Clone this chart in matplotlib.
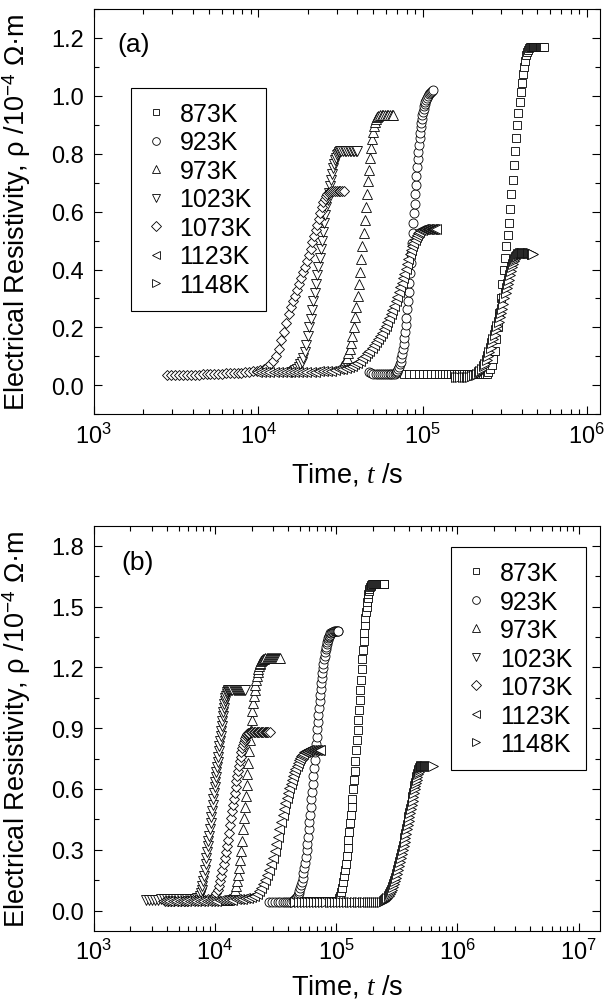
import numpy as np
import matplotlib
matplotlib.use('Agg')
import matplotlib.pyplot as plt
from matplotlib.ticker import MultipleLocator, FormatStrFormatter, LogLocator, NullFormatter

plt.rcParams['font.family'] = ['Liberation Sans', 'DejaVu Sans']
plt.rcParams['mathtext.fontset'] = 'custom'
plt.rcParams['mathtext.rm'] = 'Liberation Sans'
plt.rcParams['mathtext.it'] = 'Liberation Serif:italic'

labels = ['873K', '923K', '973K', '1023K', '1073K', '1123K', '1148K']

# ---------------- (a) : time in 10^3 s, resistivity in 10^-4 Ohm m ----------------
ta_873 = [77, 83, 89, 95, 101, 107, 113, 119, 125, 131,
          137, 143, 149, 155, 161, 167, 173, 179, 185, 191,
          197, 203, 209, 215, 221, 227, 233, 239, 245, 251,
          257, 263, 269, 275, 281, 287, 293, 299, 305, 311,
          317, 323, 329, 335, 341, 347, 353, 359, 365, 371,
          377, 383, 389, 395, 401, 407, 413, 419, 425, 431,
          437, 443, 449, 455, 461, 467, 473, 479, 485, 491,
          497, 503, 509, 515, 521, 527, 533, 539, 545]
ra_873 = [0.04, 0.04, 0.04, 0.04, 0.04, 0.04, 0.04, 0.04, 0.04, 0.04,
          0.04, 0.04, 0.04, 0.04, 0.04, 0.04, 0.04, 0.04, 0.04, 0.04,
          0.04, 0.04, 0.04, 0.04, 0.04, 0.04, 0.04, 0.04, 0.04, 0.045,
          0.055, 0.07, 0.09, 0.12, 0.16, 0.20, 0.25, 0.30, 0.35, 0.40,
          0.44, 0.48, 0.52, 0.56, 0.61, 0.66, 0.71, 0.76, 0.81, 0.855,
          0.90, 0.94, 0.98, 1.015, 1.045, 1.075, 1.10, 1.12, 1.14, 1.152,
          1.16, 1.165, 1.168, 1.17, 1.17, 1.17, 1.17, 1.17, 1.17, 1.17,
          1.17, 1.17, 1.17, 1.17, 1.17, 1.17, 1.17, 1.17, 1.17]

ta_923 = [47.0, 48.6, 50.2, 51.8, 53.4, 55.0, 56.6, 58.2, 59.8, 61.4,
          63.0, 64.6, 66.2, 67.8, 68.6, 69.4, 70.2, 71.0, 71.8, 72.6,
          73.4, 74.2, 75.0, 75.8, 76.6, 77.4, 78.2, 79.0, 79.8, 80.6,
          81.4, 82.2, 83.0, 83.8, 84.6, 85.4, 86.2, 87.0, 87.8, 88.6,
          89.4, 90.2, 91.0, 91.8, 92.6, 93.4, 94.2, 95.0, 95.8, 96.6,
          97.4, 98.2, 99.0, 99.8, 100.6, 101.4, 102.2, 103.0, 103.8, 104.6,
          106.2, 107.8, 109.4, 111.0, 112.6, 114.2, 115.0]
ra_923 = [0.045, 0.042, 0.04, 0.04, 0.04, 0.04, 0.04, 0.04, 0.04, 0.04,
          0.04, 0.04, 0.04, 0.04, 0.042, 0.045, 0.05, 0.056, 0.063, 0.072,
          0.082, 0.094, 0.108, 0.124, 0.142, 0.162, 0.184, 0.208, 0.234, 0.262,
          0.292, 0.323, 0.355, 0.388, 0.421, 0.455, 0.49, 0.525, 0.56, 0.594,
          0.628, 0.661, 0.693, 0.724, 0.753, 0.781, 0.807, 0.831, 0.853, 0.873,
          0.891, 0.907, 0.921, 0.934, 0.945, 0.955, 0.964, 0.972, 0.979, 0.985,
          0.994, 1.0, 1.006, 1.011, 1.015, 1.018, 1.02]

ta_973 = [32.5, 33.2, 33.9, 34.6, 35.3, 36.0, 36.7, 37.4, 38.1, 38.8,
          39.5, 40.2, 40.9, 41.6, 42.3, 43.0, 43.7, 44.4, 45.1, 45.8,
          46.5, 47.2, 47.9, 48.6, 49.3, 50.0, 50.7, 51.4, 52.1, 52.8,
          53.5, 54.9, 56.3, 57.7, 59.1, 60.5, 61.9, 63.3, 64.7, 66.1]
ra_973 = [0.065, 0.075, 0.085, 0.095, 0.11, 0.125, 0.145, 0.17, 0.2, 0.235,
          0.27, 0.31, 0.35, 0.39, 0.435, 0.48, 0.525, 0.57, 0.615, 0.66,
          0.705, 0.745, 0.785, 0.82, 0.85, 0.875, 0.895, 0.91, 0.92, 0.927,
          0.931, 0.934, 0.935, 0.935, 0.935, 0.935, 0.935, 0.935, 0.935, 0.935]

ta_1023 = [16.0, 16.4, 16.8, 17.2, 17.6, 18.0, 18.4, 18.8, 19.2, 19.6,
           20.0, 20.4, 20.8, 21.2, 21.6, 22.0, 22.4, 22.8, 23.2, 23.6,
           24.0, 24.4, 24.8, 25.2, 25.6, 26.0, 26.4, 26.8, 27.2, 27.6,
           28.0, 28.4, 28.8, 29.2, 29.6, 30.0, 30.4, 30.8, 31.2, 31.6,
           32.0, 32.8, 33.6, 34.4, 35.2, 36.0, 36.8, 37.6, 38.4, 39.2, 40.0]
ra_1023 = [0.045, 0.048, 0.052, 0.057, 0.064, 0.072, 0.082, 0.096, 0.115, 0.14,
           0.17, 0.2, 0.23, 0.26, 0.29, 0.32, 0.35, 0.38, 0.41, 0.44,
           0.47, 0.5, 0.53, 0.56, 0.59, 0.615, 0.64, 0.665, 0.69, 0.71,
           0.73, 0.75, 0.765, 0.777, 0.787, 0.795, 0.8, 0.804, 0.807, 0.809,
           0.81, 0.81, 0.81, 0.81, 0.81, 0.81, 0.81, 0.81, 0.81, 0.81, 0.81]

ta_1073 = [2.8, 2.95, 3.1, 3.3, 3.5, 3.7, 3.9, 4.1, 4.35, 4.6,
           4.85, 5.1, 5.4, 5.7, 6.0, 6.35, 6.7, 7.1, 7.5, 7.9,
           8.3, 8.8, 9.3, 9.8, 10.3, 10.8, 11.3, 11.8, 12.3, 12.8,
           13.3, 13.8, 14.3, 14.8, 15.3, 15.8, 16.3, 16.8, 17.3, 17.8,
           18.3, 18.8, 19.3, 19.8, 20.3, 20.8, 21.3, 21.8, 22.3, 22.8,
           23.3, 23.8, 24.3, 24.8, 25.3, 25.8, 26.3, 26.8, 27.3, 27.8,
           28.5, 29.2, 30.0, 30.8, 31.6, 32.4, 33.4]
ra_1073 = [0.035, 0.035, 0.035, 0.035, 0.035, 0.036, 0.036, 0.037, 0.037, 0.038,
           0.038, 0.039, 0.039, 0.04, 0.04, 0.041, 0.042, 0.042, 0.043, 0.044,
           0.045, 0.046, 0.048, 0.05, 0.053, 0.057, 0.063, 0.072, 0.085, 0.1,
           0.125, 0.155, 0.185, 0.215, 0.245, 0.27, 0.29, 0.31, 0.33, 0.35,
           0.37, 0.39, 0.41, 0.43, 0.45, 0.47, 0.495, 0.515, 0.535, 0.555,
           0.575, 0.595, 0.615, 0.635, 0.645, 0.655, 0.66, 0.665, 0.668, 0.67,
           0.671, 0.672, 0.672, 0.672, 0.672, 0.672, 0.672]

ta_1123 = [9.8, 10.4, 11.0, 11.7, 12.4, 13.1, 13.9, 14.7, 15.6, 16.5,
           17.5, 18.5, 19.6, 20.8, 22.0, 23.3, 24.7, 26.2, 27.7, 29.3,
           31.0, 32.5, 34.0, 35.5, 37.0, 38.5, 40.0, 41.5, 43.0, 44.5,
           46.0, 47.5, 49.0, 50.5, 52.0, 53.5, 55.0, 56.5, 58.0, 59.5,
           61.0, 62.5, 64.0, 65.5, 67.0, 68.5, 70.0, 71.5, 73.0, 74.5,
           76.0, 77.5, 79.0, 80.5, 82.0, 83.5, 85.0, 86.5, 88.0, 89.5,
           91.0, 92.5, 94.0, 95.5, 97.0, 98.5, 100.0, 102.0, 104.0, 106.0,
           108.0, 110.0, 112.0, 114.0, 116.0, 118.0, 120.0]
ra_1123 = [0.045, 0.045, 0.045, 0.045, 0.045, 0.045, 0.045, 0.045, 0.045, 0.045,
           0.046, 0.046, 0.046, 0.047, 0.047, 0.048, 0.049, 0.05, 0.051, 0.053,
           0.055, 0.057, 0.06, 0.063, 0.067, 0.072, 0.078, 0.085, 0.093, 0.101,
           0.11, 0.119, 0.128, 0.138, 0.148, 0.159, 0.17, 0.182, 0.194, 0.206,
           0.219, 0.232, 0.246, 0.26, 0.275, 0.29, 0.306, 0.322, 0.338, 0.354,
           0.37, 0.386, 0.402, 0.42, 0.436, 0.452, 0.467, 0.48, 0.492, 0.503,
           0.512, 0.52, 0.526, 0.531, 0.535, 0.537, 0.539, 0.54, 0.54, 0.54,
           0.54, 0.54, 0.54, 0.54, 0.54, 0.54, 0.54]

ta_1148 = [160, 165, 170, 175, 180, 185, 190, 195, 200, 205,
           210, 215, 220, 225, 230, 235, 240, 245, 250, 255,
           260, 265, 270, 275, 280, 285, 290, 295, 300, 305,
           310, 315, 320, 325, 330, 335, 340, 345, 350, 355,
           360, 365, 370, 375, 380, 385, 390, 395, 400, 405,
           410, 415, 420, 425, 430, 435, 440, 445, 450, 455,
           460, 465, 470]
ra_1148 = [0.03, 0.03, 0.03, 0.03, 0.03, 0.03, 0.03, 0.03, 0.032, 0.034,
           0.037, 0.04, 0.045, 0.05, 0.057, 0.065, 0.075, 0.087, 0.1, 0.115,
           0.13, 0.145, 0.16, 0.175, 0.19, 0.205, 0.22, 0.235, 0.25, 0.265,
           0.28, 0.3, 0.32, 0.335, 0.35, 0.365, 0.38, 0.395, 0.41, 0.42,
           0.43, 0.437, 0.443, 0.448, 0.452, 0.455, 0.457, 0.458, 0.458, 0.458,
           0.458, 0.458, 0.458, 0.458, 0.458, 0.458, 0.458, 0.458, 0.457, 0.456,
           0.455, 0.455, 0.455]

# ---------------- (b) ----------------
tb_873 = [56, 60, 64, 68, 72, 76, 80, 84, 88, 92,
          96, 100, 104, 106, 108, 110, 112, 114, 116, 118,
          120, 122, 124, 126, 128, 130, 132, 134, 136, 138,
          140, 142, 144, 146, 148, 150, 152, 154, 156, 158,
          160, 162, 164, 166, 168, 170, 172, 174, 176, 178,
          180, 182, 184, 186, 188, 190, 192, 194, 198, 202,
          206, 210, 214, 218, 222, 226, 230, 234, 238, 242,
          246, 250]
rb_873 = [0.045, 0.045, 0.045, 0.045, 0.045, 0.045, 0.045, 0.045, 0.045, 0.045,
          0.045, 0.045, 0.045, 0.06, 0.07, 0.09, 0.11, 0.14, 0.17, 0.2,
          0.23, 0.27, 0.31, 0.35, 0.39, 0.43, 0.47, 0.51, 0.55, 0.6,
          0.645, 0.69, 0.74, 0.79, 0.84, 0.89, 0.94, 0.99, 1.04, 1.09,
          1.14, 1.19, 1.24, 1.285, 1.33, 1.37, 1.41, 1.445, 1.475, 1.5,
          1.525, 1.545, 1.56, 1.575, 1.585, 1.595, 1.6, 1.605, 1.61, 1.61,
          1.61, 1.61, 1.61, 1.61, 1.61, 1.61, 1.61, 1.61, 1.61, 1.61,
          1.61, 1.61]

tb_923 = [28.0, 29.6, 31.2, 32.8, 34.4, 36.0, 37.6, 39.2, 40.8, 42.4,
          44.0, 44.8, 45.6, 46.4, 47.2, 48.0, 48.8, 49.6, 50.4, 51.2,
          52.0, 52.8, 53.6, 54.4, 55.2, 56.0, 56.8, 57.6, 58.4, 59.2,
          60.0, 60.8, 61.6, 62.4, 63.2, 64.0, 64.8, 65.6, 66.4, 67.2,
          68.0, 68.8, 69.6, 70.4, 71.2, 72.0, 72.8, 73.6, 74.4, 75.2,
          76.0, 76.8, 77.6, 78.4, 79.2, 80.0, 80.8, 81.6, 82.4, 83.2,
          84.0, 84.8, 85.6, 86.4, 87.2, 88.0, 89.6, 91.2, 92.8, 94.4,
          96.0, 97.6, 99.2, 100.8, 102.4, 104.0]
rb_923 = [0.04, 0.04, 0.04, 0.04, 0.04, 0.04, 0.04, 0.04, 0.04, 0.042,
          0.045, 0.05, 0.055, 0.06, 0.067, 0.075, 0.085, 0.097, 0.11, 0.125,
          0.143, 0.163, 0.185, 0.21, 0.237, 0.266, 0.297, 0.33, 0.365, 0.4,
          0.436, 0.473, 0.51, 0.548, 0.587, 0.626, 0.665, 0.704, 0.743, 0.782,
          0.82, 0.858, 0.895, 0.931, 0.966, 1.0, 1.033, 1.064, 1.094, 1.122,
          1.149, 1.174, 1.197, 1.219, 1.239, 1.257, 1.274, 1.289, 1.303, 1.315,
          1.326, 1.335, 1.343, 1.35, 1.356, 1.361, 1.368, 1.372, 1.375, 1.377,
          1.378, 1.378, 1.378, 1.378, 1.378, 1.378]

tb_973 = [12.2, 12.5, 12.8, 13.1, 13.4, 13.7, 14.0, 14.3, 14.6, 14.9,
          15.2, 15.5, 15.8, 16.1, 16.4, 16.7, 17.0, 17.3, 17.6, 17.9,
          18.2, 18.5, 18.8, 19.1, 19.4, 19.7, 20.0, 20.3, 20.6, 20.9,
          21.2, 21.5, 21.8, 22.1, 22.4, 22.7, 23.0, 23.3, 23.6, 23.9,
          24.2, 24.8, 25.4, 26.0, 26.6, 27.2, 27.8, 28.4, 29.0, 29.6,
          30.2, 30.8, 31.4, 32.0, 32.6, 33.2, 33.8, 34.6]
rb_973 = [0.05, 0.052, 0.054, 0.056, 0.058, 0.065, 0.075, 0.085, 0.1, 0.12,
          0.145, 0.175, 0.21, 0.25, 0.295, 0.345, 0.4, 0.455, 0.51, 0.565,
          0.62, 0.675, 0.73, 0.785, 0.84, 0.89, 0.94, 0.985, 1.025, 1.06,
          1.09, 1.115, 1.14, 1.16, 1.178, 1.193, 1.205, 1.215, 1.223, 1.23,
          1.235, 1.24, 1.243, 1.245, 1.245, 1.245, 1.245, 1.245, 1.245, 1.245,
          1.245, 1.245, 1.245, 1.245, 1.245, 1.245, 1.245, 1.245]

tb_1023 = [2.7, 2.85, 3.0, 3.2, 3.4, 3.6, 3.8, 4.0, 4.25, 4.5,
           4.75, 5.0, 5.3, 5.6, 5.9, 6.2, 6.5, 6.8, 7.1, 7.4,
           7.50, 7.62, 7.74, 7.86, 7.98, 8.10, 8.22, 8.34, 8.46, 8.58,
           8.70, 8.82, 8.94, 9.06, 9.18, 9.30, 9.42, 9.54, 9.66, 9.78,
           9.90, 10.02, 10.14, 10.26, 10.38, 10.50, 10.62, 10.74, 10.86, 10.98,
           11.10, 11.22, 11.34, 11.46, 11.58, 11.70, 11.82, 11.94, 12.06, 12.18,
           12.30, 12.42, 12.54, 12.66, 12.78, 13.0, 13.3, 13.6, 13.9, 14.2,
           14.5, 14.8, 15.1, 15.4, 15.7, 16.0, 16.3, 16.6, 16.9, 17.2, 17.5]
rb_1023 = [0.05, 0.05, 0.052, 0.053, 0.054, 0.055, 0.055, 0.055, 0.055, 0.055,
           0.055, 0.055, 0.055, 0.055, 0.056, 0.056, 0.057, 0.058, 0.06, 0.063,
           0.07, 0.085, 0.10, 0.12, 0.145, 0.17, 0.2, 0.23, 0.26, 0.29,
           0.32, 0.345, 0.37, 0.4, 0.43, 0.46, 0.49, 0.52, 0.55, 0.58,
           0.61, 0.635, 0.66, 0.685, 0.71, 0.735, 0.76, 0.785, 0.81, 0.835,
           0.86, 0.885, 0.91, 0.935, 0.96, 0.98, 1.0, 1.02, 1.035, 1.05,
           1.06, 1.07, 1.078, 1.084, 1.088, 1.09, 1.09, 1.09, 1.09, 1.09,
           1.09, 1.09, 1.09, 1.09, 1.09, 1.09, 1.09, 1.09, 1.09, 1.09, 1.09]

tb_1073 = [3.85, 4.1, 4.35, 4.6, 4.9, 5.2, 5.5, 5.85, 6.2, 6.55,
           6.95, 7.35, 7.8, 8.25, 8.75, 9.25, 9.75, 10.0, 10.25, 10.5,
           10.75, 11.0, 11.25, 11.5, 11.75, 12.0, 12.25, 12.5, 12.75, 13.0,
           13.25, 13.5, 13.75, 14.0, 14.25, 14.5, 14.75, 15.0, 15.25, 15.5,
           15.75, 16.0, 16.25, 16.5, 16.75, 17.0, 17.25, 17.5, 17.75, 18.0,
           18.25, 18.5, 18.75, 19.0, 19.6, 20.2, 20.8, 21.4, 22.0, 22.6,
           23.2, 23.8, 24.4, 25.0, 25.6, 26.2, 26.8, 27.4, 28.2]
rb_1073 = [0.046, 0.046, 0.047, 0.047, 0.048, 0.048, 0.049, 0.049, 0.05, 0.05,
           0.051, 0.052, 0.053, 0.054, 0.056, 0.059, 0.063, 0.07, 0.085, 0.1,
           0.12, 0.145, 0.17, 0.2, 0.23, 0.26, 0.29, 0.32, 0.35, 0.385,
           0.42, 0.455, 0.49, 0.52, 0.55, 0.58, 0.61, 0.64, 0.665, 0.69,
           0.715, 0.74, 0.76, 0.78, 0.8, 0.815, 0.83, 0.843, 0.853, 0.861,
           0.867, 0.872, 0.875, 0.877, 0.88, 0.88, 0.88, 0.88, 0.88, 0.88,
           0.88, 0.88, 0.88, 0.88, 0.88, 0.88, 0.88, 0.88, 0.88]

tb_1123 = [3.7, 3.95, 4.2, 4.5, 4.8, 5.1, 5.45, 5.8, 6.2, 6.6,
           7.0, 7.5, 8.0, 8.5, 9.0, 9.6, 10.2, 10.9, 11.6, 12.3,
           13.1, 13.9, 14.8, 15.7, 16.7, 17.7, 18.8, 19.9, 21, 22,
           23, 24, 25, 26, 27, 28, 29, 30, 31, 32,
           33, 34, 35, 36, 37, 38, 39, 40, 41, 42,
           43, 44, 45, 46, 47, 48, 49, 50, 51, 52,
           53, 54, 55, 56, 57, 58, 60, 62, 64, 66,
           68, 70, 72, 74]
rb_1123 = [0.045, 0.045, 0.045, 0.045, 0.045, 0.045, 0.045, 0.045, 0.045, 0.045,
           0.046, 0.046, 0.047, 0.047, 0.048, 0.048, 0.049, 0.05, 0.051, 0.052,
           0.053, 0.054, 0.055, 0.056, 0.058, 0.06, 0.062, 0.065, 0.07, 0.08,
           0.095, 0.11, 0.13, 0.15, 0.175, 0.2, 0.23, 0.26, 0.295, 0.33,
           0.365, 0.4, 0.435, 0.47, 0.5, 0.53, 0.555, 0.58, 0.603, 0.625,
           0.645, 0.665, 0.683, 0.7, 0.715, 0.73, 0.743, 0.755, 0.763, 0.77,
           0.775, 0.78, 0.784, 0.787, 0.789, 0.79, 0.79, 0.79, 0.79, 0.79,
           0.79, 0.79, 0.79, 0.79]

tb_1148 = [46, 49, 52, 55, 58, 62, 66, 70, 74, 78,
           83, 88, 93, 98, 104, 110, 116, 122, 129, 136,
           143, 150, 158, 166, 174, 182, 190, 198, 206, 214,
           222, 230, 238, 246, 252, 258, 264, 270, 276, 282,
           288, 294, 300, 306, 312, 318, 324, 330, 336, 342,
           348, 354, 360, 366, 372, 378, 384, 390, 396, 402,
           408, 414, 420, 426, 432, 438, 444, 450, 456, 462,
           468, 474, 480, 486, 492, 498, 504, 510, 516, 525,
           535, 545, 555, 565, 575, 585, 595, 605, 615, 625]
rb_1148 = [0.04, 0.04, 0.04, 0.04, 0.04, 0.04, 0.04, 0.04, 0.04, 0.04,
           0.04, 0.04, 0.04, 0.04, 0.04, 0.04, 0.04, 0.04, 0.04, 0.04,
           0.04, 0.04, 0.04, 0.04, 0.04, 0.04, 0.04, 0.04, 0.04, 0.04,
           0.04, 0.042, 0.044, 0.047, 0.05, 0.055, 0.062, 0.07, 0.08, 0.09,
           0.10, 0.115, 0.13, 0.145, 0.16, 0.18, 0.2, 0.22, 0.24, 0.26,
           0.28, 0.3, 0.32, 0.34, 0.36, 0.38, 0.4, 0.42, 0.44, 0.46,
           0.48, 0.5, 0.52, 0.54, 0.56, 0.58, 0.6, 0.615, 0.63, 0.645,
           0.66, 0.673, 0.685, 0.695, 0.703, 0.709, 0.712, 0.714, 0.715, 0.715,
           0.715, 0.715, 0.715, 0.715, 0.715, 0.715, 0.715, 0.715, 0.715, 0.715]

series_a = [(ta_873, ra_873), (ta_923, ra_923), (ta_973, ra_973), (ta_1023, ra_1023),
            (ta_1073, ra_1073), (ta_1123, ra_1123), (ta_1148, ra_1148)]
series_b = [(tb_873, rb_873), (tb_923, rb_923), (tb_973, rb_973), (tb_1023, rb_1023),
            (tb_1073, rb_1073), (tb_1123, rb_1123), (tb_1148, rb_1148)]

markers = ['s', 'o', '^', 'v', 'D', '<', '>']
msizes = [5.5, 6.5, 7.5, 7.5, 5.5, 7.5, 7.5]

fig = plt.figure(figsize=(6.06, 10.03), dpi=100)
ax1 = fig.add_axes([0.155, 0.586, 0.835, 0.404])
ax2 = fig.add_axes([0.155, 0.071, 0.835, 0.404])

for ax, series in [(ax1, series_a), (ax2, series_b)]:
    for (t, r), lab, m, ms in zip(series, labels, markers, msizes):
        ax.plot(np.array(t) * 1e3, r, ls='none', marker=m, ms=ms,
                mfc='white', mec='black', mew=0.6, label=lab)
    ax.set_xscale('log')
    ax.xaxis.set_major_locator(LogLocator(base=10))
    ax.xaxis.set_minor_locator(LogLocator(base=10, subs=np.arange(2, 10)))
    ax.xaxis.set_minor_formatter(NullFormatter())
    ax.yaxis.set_major_formatter(FormatStrFormatter('%.1f'))
    ax.tick_params(which='both', direction='in', top=True, right=True,
                   width=0.8, labelsize=17)
    ax.tick_params(which='major', length=6)
    ax.tick_params(which='minor', length=3.5)
    ax.tick_params(axis='x', pad=6)
    ax.tick_params(axis='y', pad=7)
    for sp in ax.spines.values():
        sp.set_linewidth(0.8)
    ax.set_ylabel(r'Electrical Resistivity, ρ /10$^{-4}$ Ω·m', fontsize=19.5, labelpad=13)

ax1.set_xlabel(r'Time, $t$ /s', fontsize=19.5, labelpad=9)
ax2.set_xlabel(r'Time, $t$ /s', fontsize=19.5, labelpad=6)

ax1.set_xlim(1e3, 1.2e6)
ax1.set_ylim(-0.1, 1.3)
ax1.yaxis.set_major_locator(MultipleLocator(0.2))
ax1.yaxis.set_minor_locator(MultipleLocator(0.1))

ax2.set_xlim(1e3, 1.5e7)
ax2.set_ylim(-0.1, 1.9)
ax2.yaxis.set_major_locator(MultipleLocator(0.3))
ax2.yaxis.set_minor_locator(MultipleLocator(0.15))

leg_kw = dict(borderaxespad=0, fancybox=False, edgecolor='black', framealpha=1,
              fontsize=18, handlelength=0.9, handletextpad=0.5, labelspacing=0.18,
              borderpad=0.55, numpoints=1, markerscale=0.85)
leg1 = ax1.legend(loc='upper left', bbox_to_anchor=(0.073, 0.805), **leg_kw)
leg2 = ax2.legend(loc='upper right', bbox_to_anchor=(0.972, 0.946), **leg_kw)
for leg in (leg1, leg2):
    leg.get_frame().set_linewidth(0.8)

ax1.text(0.047, 0.914, '(a)', transform=ax1.transAxes, fontsize=19, va='center')
ax2.text(0.055, 0.909, '(b)', transform=ax2.transAxes, fontsize=19, va='center')

fig.savefig('out.png', dpi=100)
